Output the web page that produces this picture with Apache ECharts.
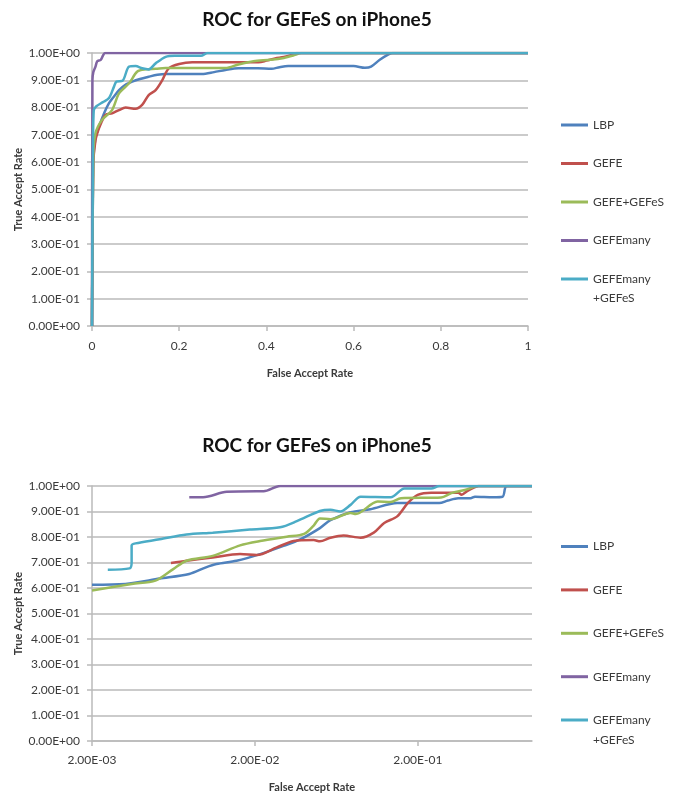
<!DOCTYPE html>
<html>
<head>
<meta charset="utf-8">
<script src="https://cdn.jsdelivr.net/npm/echarts@6/dist/echarts.min.js"></script>
<style>
  html, body { margin: 0; padding: 0; background: #fff; }
  #chart { width: 677px; height: 794px; }
</style>
</head>
<body>
<div id="chart"></div>
<script>
const titleText = 'ROC for GEFeS on iPhone5';
const seriesNames = ['LBP', 'GEFE', 'GEFE+GEFeS', 'GEFEmany', 'GEFEmany+GEFeS'];
const colors = ['#4f81bd', '#c0504d', '#9bbb59', '#8064a2', '#4bacc6'];

// top chart, linear false accept rate
const topLBP = [[0,0],[0.003,0.6],[0.008,0.69],[0.016,0.73],[0.028,0.78],[0.039,0.816],[0.05,0.84],[0.062,0.864],[0.075,0.882],[0.092,0.895],[0.11,0.905],[0.13,0.913],[0.15,0.92],[0.169,0.923],[0.2,0.923],[0.252,0.923],[0.28,0.93],[0.306,0.938],[0.336,0.944],[0.38,0.944],[0.412,0.942],[0.43,0.948],[0.45,0.952],[0.55,0.952],[0.6,0.952],[0.626,0.946],[0.64,0.95],[0.66,0.975],[0.68,0.995],[0.69,1],[1,1]];
const topGEFE = [[0,0],[0.003,0.6],[0.008,0.68],[0.012,0.706],[0.02,0.74],[0.031,0.773],[0.046,0.779],[0.062,0.791],[0.077,0.8],[0.1,0.796],[0.115,0.81],[0.13,0.846],[0.146,0.864],[0.161,0.9],[0.176,0.944],[0.2,0.96],[0.23,0.966],[0.3,0.966],[0.382,0.966],[0.4,0.972],[0.42,0.98],[0.44,0.985],[0.458,0.993],[0.47,1],[1,1]];
const topGEFEGEFeS = [[0,0],[0.003,0.62],[0.008,0.706],[0.023,0.755],[0.046,0.791],[0.062,0.852],[0.085,0.889],[0.104,0.932],[0.123,0.94],[0.146,0.942],[0.169,0.945],[0.24,0.945],[0.306,0.945],[0.336,0.958],[0.37,0.97],[0.41,0.975],[0.44,0.982],[0.466,0.993],[0.48,1],[1,1]];
const topGEFEmany = [[0,0],[0.001,0.9],[0.003,0.93],[0.008,0.95],[0.012,0.97],[0.02,0.975],[0.025,0.99],[0.03,1],[1,1]];
const topGEFEmanyGEFeS = [[0,0],[0.002,0.6],[0.004,0.79],[0.01,0.805],[0.025,0.82],[0.039,0.835],[0.05,0.875],[0.056,0.895],[0.07,0.898],[0.085,0.95],[0.1,0.952],[0.115,0.944],[0.13,0.94],[0.146,0.962],[0.169,0.986],[0.19,0.99],[0.25,0.99],[0.265,1],[1,1]];

// bottom chart, log false accept rate
const botLBP = [[0.002,0.613],[0.0032,0.616],[0.0052,0.637],[0.0079,0.655],[0.01,0.681],[0.0116,0.694],[0.0154,0.707],[0.0215,0.733],[0.0299,0.765],[0.0379,0.791],[0.05,0.835],[0.058,0.866],[0.0771,0.897],[0.102,0.909],[0.149,0.933],[0.2,0.933],[0.27,0.933],[0.305,0.943],[0.353,0.952],[0.42,0.952],[0.447,0.958],[0.578,0.956],[0.66,0.958],[0.7,1],[1,1]];
const botGEFE = [[0.0061,0.698],[0.0076,0.707],[0.011,0.72],[0.0162,0.733],[0.0205,0.729],[0.0272,0.759],[0.0345,0.784],[0.0458,0.788],[0.05,0.783],[0.058,0.797],[0.0698,0.806],[0.0889,0.797],[0.107,0.817],[0.124,0.855],[0.149,0.881],[0.173,0.933],[0.199,0.965],[0.241,0.974],[0.353,0.974],[0.37,0.966],[0.4,0.98],[0.427,0.99],[0.47,1],[1,1]];
const botGEFEGEFeS = [[0.002,0.59],[0.0035,0.616],[0.0049,0.629],[0.0063,0.674],[0.0076,0.707],[0.011,0.726],[0.0162,0.767],[0.0215,0.784],[0.0313,0.801],[0.04,0.812],[0.0458,0.845],[0.05,0.873],[0.058,0.87],[0.0771,0.894],[0.083,0.89],[0.113,0.939],[0.136,0.937],[0.157,0.952],[0.277,0.955],[0.32,0.972],[0.387,0.984],[0.47,1],[1,1]];
const botGEFEmany = [[0.0079,0.956],[0.0096,0.956],[0.0134,0.977],[0.0205,0.979],[0.0226,0.979],[0.0285,1],[1,1]];
const botGEFEmanyGEFeS = [[0.0025,0.672],[0.0034,0.677],[0.0035,0.7],[0.0035,0.767],[0.0037,0.775],[0.0052,0.791],[0.0076,0.81],[0.011,0.817],[0.0186,0.829],[0.0285,0.838],[0.0361,0.862],[0.05,0.902],[0.058,0.907],[0.0667,0.9],[0.0771,0.926],[0.0889,0.958],[0.136,0.956],[0.165,0.99],[0.241,0.99],[0.27,1],[1,1]];

const topData = [topLBP, topGEFE, topGEFEGEFeS, topGEFEmany, topGEFEmanyGEFeS];
const botData = [botLBP, botGEFE, botGEFEGEFeS, botGEFEmany, botGEFEmanyGEFeS];

const font = 'Lato, "Liberation Sans", sans-serif';
const gridColor = '#bababa';
const textColor = '#3a3a3a';

// 0.9 -> 9.00E-01
const sci = (v) => {
  if (v === 0) return '0.00E+00';
  const e = Math.floor(Math.log10(v) + 1e-9);
  const m = v / Math.pow(10, e);
  return m.toFixed(2) + 'E' + (e < 0 ? '-' : '+') + String(Math.abs(e)).padStart(2, '0');
};

const makeYAxis = (gridIndex) => ({
  gridIndex,
  type: 'value',
  min: 0,
  max: 1,
  interval: 0.1,
  name: 'True Accept Rate',
  nameLocation: 'middle',
  nameRotate: 90,
  nameGap: 68,
  nameMoveOverlap: false,
  nameTextStyle: { fontFamily: font, fontSize: 11, fontWeight: 'bold', color: textColor },
  axisLine: { show: true, lineStyle: { color: gridColor, width: 1.5 } },
  axisTick: { show: true, length: 5, lineStyle: { color: gridColor, width: 1.5 } },
  axisLabel: { formatter: sci, fontFamily: font, fontSize: 12, color: textColor, margin: 12 },
  splitLine: { lineStyle: { color: gridColor, width: 1.5 } },
});

const xCommon = {
  name: 'False Accept Rate',
  nameLocation: 'middle',
  nameMoveOverlap: false,
  nameTextStyle: { fontFamily: font, fontSize: 11, fontWeight: 'bold', color: textColor },
  axisLine: { lineStyle: { color: gridColor, width: 1.5 } },
  axisTick: { show: true, length: 5, lineStyle: { color: gridColor, width: 1.5 } },
  splitLine: { show: false },
};

const legendText = { fontFamily: font, fontSize: 12, color: textColor, lineHeight: 14 };

// first four entries in one column, the wrapped last entry on its own
const makeLegends = (top4, gap, topLast, lh) => [
  {
    orient: 'vertical', left: 561, top: top4, itemGap: gap, padding: 0,
    icon: 'rect', itemWidth: 27, itemHeight: 3,
    data: seriesNames.slice(0, 4),
    textStyle: legendText,
  },
  {
    orient: 'vertical', left: 561, top: topLast, padding: 0,
    icon: 'rect', itemWidth: 27, itemHeight: 3,
    data: [seriesNames[4]],
    formatter: () => ' \nGEFEmany\n+GEFeS',
    textStyle: Object.assign({}, legendText, { lineHeight: lh }),
  },
];

const series = [];
[topData, botData].forEach((set, gi) => {
  set.forEach((d, i) => {
    series.push({
      name: seriesNames[i],
      type: 'line',
      xAxisIndex: gi,
      yAxisIndex: gi,
      data: d,
      smooth: 0.3,
      showSymbol: false,
      lineStyle: { color: colors[i], width: 2.5 },
      itemStyle: { color: colors[i] },
      animation: false,
    });
  });
});

const chart = echarts.init(document.getElementById('chart'));
chart.setOption({
  backgroundColor: '#fff',
  title: [
    { text: titleText, left: 312, top: 5, textAlign: 'center',
      textStyle: { fontFamily: font, fontSize: 19, fontWeight: 'bold', color: '#111' } },
    { text: titleText, left: 312, top: 431, textAlign: 'center',
      textStyle: { fontFamily: font, fontSize: 19, fontWeight: 'bold', color: '#111' } },
  ],
  legend: [].concat(makeLegends(118, 24.5, 250.5, 19), makeLegends(539.5, 29.4, 690, 20)),
  grid: [
    { left: 92, right: 149, top: 53, height: 273 },
    { left: 92, right: 145, top: 486, height: 258 },
  ],
  xAxis: [
    Object.assign({}, xCommon, {
      gridIndex: 0, type: 'value', min: 0, max: 1, interval: 0.2, nameGap: 42,
      axisLabel: { fontFamily: font, fontSize: 12, color: textColor, margin: 14 },
    }),
    Object.assign({}, xCommon, {
      gridIndex: 1, type: 'log', logBase: 10, min: 0.002, max: 1, interval: 1, nameGap: 41,
      axisLabel: {
        fontFamily: font, fontSize: 12, color: textColor, margin: 13,
        showMaxLabel: false,
        formatter: (v) => (v >= 0.99 ? '' : sci(v)),
      },
    }),
  ],
  yAxis: [makeYAxis(0), makeYAxis(1)],
  series,
});
</script>
</body>
</html>
